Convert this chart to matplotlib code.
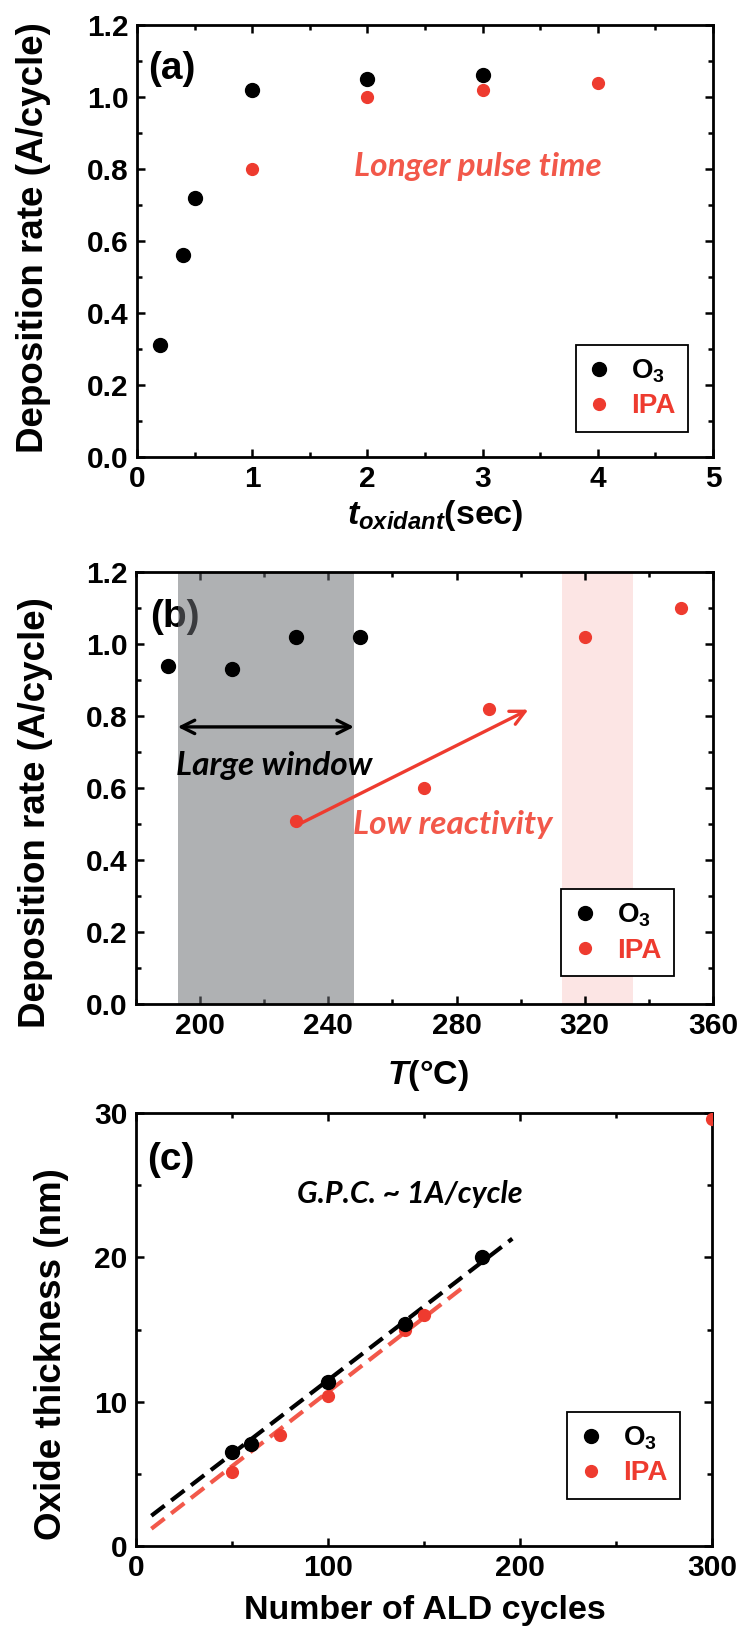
import numpy as np
import matplotlib
matplotlib.use("Agg")
import matplotlib.pyplot as plt
from matplotlib.ticker import MultipleLocator, FormatStrFormatter

# ---- data ----
# (a) deposition rate vs oxidant pulse time
t_o3 = [0.2, 0.4, 0.5, 1.0, 2.0, 3.0]
rate_o3_a = [0.31, 0.56, 0.72, 1.02, 1.05, 1.06]
t_ipa = [1.0, 2.0, 3.0, 4.0]
rate_ipa_a = [0.80, 1.00, 1.02, 1.04]

# (b) deposition rate vs temperature
temp_o3 = [190, 210, 230, 250]
rate_o3_b = [0.94, 0.93, 1.02, 1.02]
temp_ipa = [230, 270, 290, 320, 350]
rate_ipa_b = [0.51, 0.60, 0.82, 1.02, 1.10]
window_o3 = (193, 248)
window_ipa = (313, 335)

# (c) thickness vs number of ALD cycles
cyc_o3 = [50, 60, 100, 140, 180]
thk_o3 = [6.5, 7.1, 11.4, 15.4, 20.0]
cyc_ipa = [50, 75, 100, 140, 150, 300]
thk_ipa = [5.1, 7.7, 10.4, 15.0, 16.0, 29.6]
fit_x_o3 = [8, 196]
fit_y_o3 = [2.1, 21.3]
fit_x_ipa = [8, 172]
fit_y_ipa = [1.2, 18.1]

RED = "#ee3b2f"
RED_TXT = "#f2584a"

plt.rcParams["font.family"] = ["Liberation Sans", "DejaVu Sans"]
plt.rcParams["font.weight"] = "bold"
plt.rcParams["axes.labelweight"] = "bold"
plt.rcParams["mathtext.fontset"] = "custom"
plt.rcParams["mathtext.rm"] = "Liberation Sans:bold"
plt.rcParams["mathtext.it"] = "Liberation Sans:italic:bold"
plt.rcParams["mathtext.bf"] = "Liberation Sans:bold"

fig = plt.figure(figsize=(7.42, 16.30), dpi=100)
ax_a = fig.add_axes([0.1846, 0.7196, 0.7763, 0.2650])
ax_b = fig.add_axes([0.1833, 0.3840, 0.7776, 0.2650])
ax_c = fig.add_axes([0.1833, 0.0515, 0.7763, 0.2656])


def style(ax, xmaj, xmin, ymaj, ymin):
    for s in ax.spines.values():
        s.set_linewidth(2.0)
    ax.xaxis.set_major_locator(MultipleLocator(xmaj))
    ax.xaxis.set_minor_locator(MultipleLocator(xmin))
    ax.yaxis.set_major_locator(MultipleLocator(ymaj))
    ax.yaxis.set_minor_locator(MultipleLocator(ymin))
    ax.tick_params(which="both", direction="in", top=True, right=True, width=1.8)
    ax.tick_params(which="major", length=6, labelsize=21.5, pad=6)
    ax.tick_params(which="minor", length=3.5)


def legend(ax, anchor):
    h1, = ax.plot([], [], "o", color="black", ms=10, label=r"O$_{\mathregular{3}}$")
    h2, = ax.plot([], [], "o", color=RED, ms=8.5, label="IPA")
    leg = ax.legend(handles=[h1, h2], loc="lower right", bbox_to_anchor=anchor,
                    borderaxespad=0, fancybox=False, edgecolor="black",
                    prop={"size": 20, "weight": "bold"}, handlelength=0.8,
                    handletextpad=0.75, labelspacing=0.3, borderpad=0.45,
                    framealpha=1)
    leg.get_frame().set_linewidth(1.3)
    leg.get_texts()[1].set_color(RED)
    return leg


ITAL = dict(family="Lato", style="italic", weight="bold", ha="center", va="center")

# ---------- (a) ----------
ax = ax_a
ax.plot(t_o3, rate_o3_a, "o", color="black", ms=10, zorder=3)
ax.plot(t_ipa, rate_ipa_a, "o", color=RED, ms=8.5, zorder=3)
ax.set_xlim(0, 5)
ax.set_ylim(0, 1.2)
style(ax, 1, 0.5, 0.2, 0.1)
ax.yaxis.set_major_formatter(FormatStrFormatter("%.1f"))
ax.text(0.019, 0.898, "(a)", transform=ax.transAxes, fontsize=28,
        ha="left", va="center")
ax.text(2.96, 0.806, "Longer pulse time", color=RED_TXT, fontsize=24, **ITAL)
ax.set_xlabel(r"$t_{oxidant}$(sec)", fontsize=24.5)
ax.xaxis.set_label_coords(0.517, -0.095)
ax.set_ylabel("Deposition rate (A/cycle)", fontsize=26.5)
ax.yaxis.set_label_coords(-0.15, 0.507)
legend(ax, (0.957, 0.058))

# ---------- (b) ----------
ax = ax_b
ax.axvspan(*window_o3, color="#6c6f74", alpha=0.54, lw=0, zorder=2)
ax.axvspan(*window_ipa, color=RED, alpha=0.13, lw=0, zorder=1)
ax.plot(temp_o3, rate_o3_b, "o", color="black", ms=10, zorder=3)
ax.plot(temp_ipa, rate_ipa_b, "o", color=RED, ms=8.5, zorder=3)
ax.set_xlim(180, 360)
ax.set_ylim(0, 1.2)
style(ax, 40, 20, 0.2, 0.1)
ax.yaxis.set_major_formatter(FormatStrFormatter("%.1f"))
ax.text(0.024, 0.896, "(b)", transform=ax.transAxes, fontsize=28,
        ha="left", va="center", zorder=1)
ax.annotate("", xy=(window_o3[1], 0.77), xytext=(window_o3[0], 0.77),
            arrowprops=dict(arrowstyle="<->", color="black", lw=2.4,
                            mutation_scale=24, shrinkA=0, shrinkB=0), zorder=4)
ax.text(223, 0.663, "Large window", color="black", fontsize=24, zorder=4, **ITAL)
ax.annotate("", xy=(302.4, 0.818), xytext=(230.7, 0.499),
            arrowprops=dict(arrowstyle="->", color=RED, lw=2.4,
                            mutation_scale=26, shrinkA=0, shrinkB=0), zorder=4)
ax.text(278.7, 0.499, "Low reactivity", color=RED_TXT, fontsize=24, zorder=4, **ITAL)
ax.set_xlabel(r"$T$(°C)", fontsize=24.5)
ax.xaxis.set_label_coords(0.506, -0.125)
ax.set_ylabel("Deposition rate (A/cycle)", fontsize=26.5)
ax.yaxis.set_label_coords(-0.144, 0.444)
legend(ax, (0.932, 0.065))

# ---------- (c) ----------
ax = ax_c
ax.plot(fit_x_o3, fit_y_o3, color="black", lw=3.0, ls=(0, (4, 2)), zorder=2)
ax.plot(fit_x_ipa, fit_y_ipa, color=RED_TXT, lw=3.0, ls=(0, (4, 2)), zorder=2)
ax.plot(cyc_ipa, thk_ipa, "o", color=RED, ms=8.5, zorder=3)
ax.plot(cyc_o3, thk_o3, "o", color="black", ms=10, zorder=4)
ax.set_xlim(0, 300)
ax.set_ylim(0, 30)
style(ax, 100, 50, 10, 5)
ax.text(0.019, 0.891, "(c)", transform=ax.transAxes, fontsize=28,
        ha="left", va="center")
ax.text(142.4, 24.4, "G.P.C. ~ 1A/cycle", color="black", fontsize=22, **ITAL)
ax.set_xlabel("Number of ALD cycles", fontsize=24.5)
ax.xaxis.set_label_coords(0.502, -0.112)
ax.set_ylabel("Oxide thickness (nm)", fontsize=26.5)
ax.yaxis.set_label_coords(-0.116, 0.443)
legend(ax, (0.944, 0.109))

fig.savefig("out.png", dpi=100, facecolor="white")
